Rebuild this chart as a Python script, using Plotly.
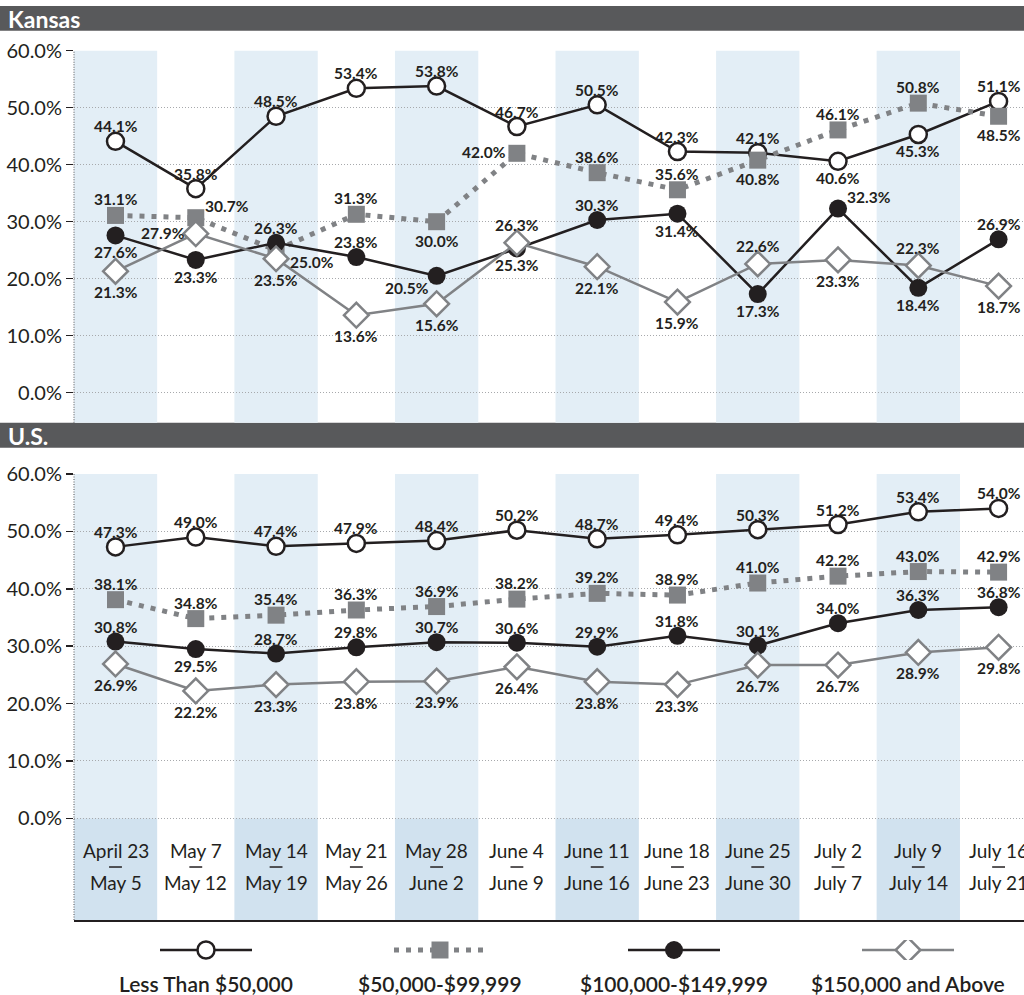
import plotly.graph_objects as go

# ---------------- data ----------------
period_start = ["April 23", "May 7", "May 14", "May 21", "May 28", "June 4",
                "June 11", "June 18", "June 25", "July 2", "July 9", "July 16"]
period_end = ["May 5", "May 12", "May 19", "May 26", "June 2", "June 9",
              "June 16", "June 23", "June 30", "July 7", "July 14", "July 21"]
series_names = ["Less Than $50,000", "$50,000-$99,999",
                "$100,000-$149,999", "$150,000 and Above"]

ks_lt50k = [44.1, 35.8, 48.5, 53.4, 53.8, 46.7, 50.5, 42.3, 42.1, 40.6, 45.3, 51.1]
ks_50_99k = [31.1, 30.7, 25.0, 31.3, 30.0, 42.0, 38.6, 35.6, 40.8, 46.1, 50.8, 48.5]
ks_100_149k = [27.6, 23.3, 26.3, 23.8, 20.5, 25.3, 30.3, 31.4, 17.3, 32.3, 18.4, 26.9]
ks_150k_up = [21.3, 27.9, 23.5, 13.6, 15.6, 26.3, 22.1, 15.9, 22.6, 23.3, 22.3, 18.7]

us_lt50k = [47.3, 49.0, 47.4, 47.9, 48.4, 50.2, 48.7, 49.4, 50.3, 51.2, 53.4, 54.0]
us_50_99k = [38.1, 34.8, 35.4, 36.3, 36.9, 38.2, 39.2, 38.9, 41.0, 42.2, 43.0, 42.9]
us_100_149k = [30.8, 29.5, 28.7, 29.8, 30.7, 30.6, 29.9, 31.8, 30.1, 34.0, 36.3, 36.8]
us_150k_up = [26.9, 22.2, 23.3, 23.8, 23.9, 26.4, 23.8, 23.3, 26.7, 26.7, 28.9, 29.8]

y_ticks = [0, 10, 20, 30, 40, 50, 60]

# ---------------- label placement codes ----------------
ks_pos = [
    ["t", "t", "t", "t", "t", "t", "t", "t", "t", "b", "b", "t"],
    ["t", "tr", "br", "t", "b", "l", "t", "t", "b", "t", "t", "b"],
    ["b", "b", "t", "t", "bl", "b", "t", "b", "b", "tr", "b", "t"],
    ["b", "l", "b", "b", "b", "t", "b", "b", "t", "b", "t", "b"],
]
us_pos = [
    ["t"] * 12,
    ["t"] * 12,
    ["t", "b"] + ["t"] * 10,
    ["b"] * 12,
]

# ---------------- styles ----------------
BLACK = "#231f20"
GRAY = "#808285"
styles = [
    dict(line=dict(color=BLACK, width=2.5),
         marker=dict(symbol="circle", size=17, color="white", line=dict(color=BLACK, width=2.5))),
    dict(line=dict(color=GRAY, width=5, dash="5px,7px"),
         marker=dict(symbol="square", size=17, color=GRAY, line=dict(width=0))),
    dict(line=dict(color=BLACK, width=2.5),
         marker=dict(symbol="circle", size=18, color=BLACK, line=dict(width=0))),
    dict(line=dict(color=GRAY, width=2.5),
         marker=dict(symbol="diamond", size=19, color="white", line=dict(color=GRAY, width=2.5))),
]
top_off = [15, 16, 15, 18]
bot_off = [17, 19, 17, 21]
side_place = {  # code -> (xanchor, xshift, yshift)
    "tr": ("left", 7, 12),
    "br": ("left", 12, -12),
    "l": ("right", -9, 1),
    "bl": ("right", -6, -12),
}

W, H = 1024, 995
def py(px):  # pixel from top -> paper fraction
    return 1 - px / H

X_LEFT_PX = 74
PX_PER_CAT = 80.28
x_min = -0.517
x_max = x_min + (W - X_LEFT_PX) / PX_PER_CAT
ks_ymin = -5.263
us_ymin = -17.72

LIGHT = "#e3eef6"
DARK = "#d1e2ef"
GRID = "#a7a9ac"
LABEL_FONT = dict(family="Lato", size=15.5, color=BLACK, weight="bold")

fig = go.Figure()
idx = list(range(len(period_start)))
annotations = []

ks_series = [ks_lt50k, ks_50_99k, ks_100_149k, ks_150k_up]
us_series = [us_lt50k, us_50_99k, us_100_149k, us_150k_up]

for series, pos, xa, ya in [(ks_series, ks_pos, "x", "y"), (us_series, us_pos, "x2", "y2")]:
    for s, vals in enumerate(series):
        st = styles[s]
        fig.add_trace(go.Scatter(
            x=idx, y=vals, xaxis=xa, yaxis=ya, mode="lines+markers",
            line=st["line"], marker=st["marker"],
            showlegend=False, hoverinfo="skip", cliponaxis=False,
        ))
        for i, v in enumerate(vals):
            code = pos[s][i]
            if code == "t":
                xanchor, xshift, yshift = "center", 0, top_off[s]
            elif code == "b":
                xanchor, xshift, yshift = "center", 0, -bot_off[s]
            else:
                xanchor, xshift, yshift = side_place[code]
            annotations.append(dict(
                x=i, y=v, xref=xa, yref=ya, text=f"{v:.1f}%", showarrow=False,
                xanchor=xanchor, yanchor="middle", xshift=xshift, yshift=yshift,
                font=LABEL_FONT))

# ---------------- legend (custom) ----------------
legend_centers = [206, 440, 674, 908]
for s, c in enumerate(legend_centers):
    st = styles[s]
    fig.add_trace(go.Scatter(
        x=[c - 46, c + 46], y=[0.5, 0.5], xaxis="x3", yaxis="y3",
        mode="lines", line=st["line"], showlegend=False, hoverinfo="skip"))
    fig.add_trace(go.Scatter(
        x=[c], y=[0.5], xaxis="x3", yaxis="y3",
        mode="markers", marker=st["marker"], showlegend=False, hoverinfo="skip"))
    annotations.append(dict(
        x=c / W, y=py(983), xref="paper", yref="paper", text=series_names[s],
        showarrow=False, xanchor="center", yanchor="middle",
        font=dict(family="Lato", size=21, color=BLACK, weight=600)))

# ---------------- x category labels ----------------
px_per_unit_us = (818.3 - 474) / 60
def us_y(px):
    return (818.3 - px) / px_per_unit_us

shapes = []
for i in idx:
    annotations.append(dict(x=i, y=us_y(850.5), xref="x2", yref="y2", text=period_start[i],
                            showarrow=False, font=dict(family="Lato", size=19, color=BLACK)))
    annotations.append(dict(x=i, y=us_y(882.5), xref="x2", yref="y2", text=period_end[i],
                            showarrow=False, font=dict(family="Lato", size=19, color=BLACK)))
    shapes.append(dict(type="line", xref="x2", yref="y2", x0=i - 0.08, x1=i + 0.08,
                       y0=us_y(867), y1=us_y(867), line=dict(color=BLACK, width=1.5),
                       layer="above"))

# ---------------- headers ----------------
HEADER = "#58595b"
for (top, bot, label) in [(6, 30.7, "Kansas"), (422.7, 447.7, "U.S.")]:
    shapes.append(dict(type="rect", xref="paper", yref="paper", x0=0, x1=1,
                       y0=py(bot), y1=py(top), fillcolor=HEADER, line=dict(width=0), layer="below"))
    annotations.append(dict(x=6 / W, y=py((top + bot) / 2 + 0.5), xref="paper", yref="paper",
                            text=label, showarrow=False, xanchor="left", yanchor="middle",
                            font=dict(family="Lato", size=23, color="white", weight="bold")))

# ---------------- column shading ----------------
half = 0.519
for i in idx:
    if i % 2 == 0:
        shapes.append(dict(type="rect", xref="x", yref="y domain", x0=i - half, x1=i + half,
                           y0=0, y1=1, fillcolor=LIGHT, line=dict(width=0), layer="below"))
        shapes.append(dict(type="rect", xref="x2", yref="y2", x0=i - half, x1=i + half,
                           y0=0, y1=60, fillcolor=LIGHT, line=dict(width=0), layer="below"))
        shapes.append(dict(type="rect", xref="x2", yref="y2", x0=i - half, x1=i + half,
                           y0=us_ymin, y1=0, fillcolor=DARK, line=dict(width=0), layer="below"))

# vertical dotted axis lines
for xr, yr in [("x domain", "y domain"), ("x2 domain", "y2 domain")]:
    shapes.append(dict(type="line", xref=xr, yref=yr, x0=0, x1=0, y0=0, y1=1,
                       line=dict(color="#6d6e71", width=1.2, dash="1px,1.5px"), layer="above"))

yaxis_common = dict(
    tickvals=y_ticks, ticktext=[f"{v:.1f}%" for v in y_ticks],
    ticks="outside", ticklen=7, tickwidth=1.5, tickcolor=BLACK,
    tickfont=dict(family="Lato", size=20, color=BLACK),
    showgrid=True, gridcolor=GRID, griddash="1px,2px", gridwidth=1,
    zeroline=False, showline=False, fixedrange=True, automargin=False,
)
xaxis_common = dict(range=[x_min, x_max], domain=[X_LEFT_PX / W, 1], automargin=False,
                    showticklabels=False, showgrid=False, zeroline=False, ticks="")

fig.update_layout(
    template="none",
    width=W, height=H,
    margin=dict(l=0, r=0, t=0, b=0, pad=0, autoexpand=False),
    paper_bgcolor="white", plot_bgcolor="rgba(0,0,0,0)",
    showlegend=False,
    font=dict(family="Lato", color=BLACK),
    xaxis=dict(**xaxis_common, anchor="y", showline=False),
    yaxis=dict(**yaxis_common, domain=[py(422.7), py(50.7)], range=[ks_ymin, 60], anchor="x"),
    xaxis2=dict(**xaxis_common, anchor="y2", showline=True, linecolor=BLACK, linewidth=1.5),
    yaxis2=dict(**yaxis_common, domain=[py(920), py(474)], range=[us_ymin, 60], anchor="x2"),
    xaxis3=dict(domain=[0, 1], range=[0, W], visible=False, anchor="y3", automargin=False),
    yaxis3=dict(domain=[py(960), py(940)], range=[0, 1], visible=False, anchor="x3", automargin=False),
    shapes=shapes,
    annotations=annotations,
)

fig.write_html("out.html", config={"displayModeBar": False, "staticPlot": True},
               post_script="document.body.style.margin='0';document.body.style.overflow='hidden';")
